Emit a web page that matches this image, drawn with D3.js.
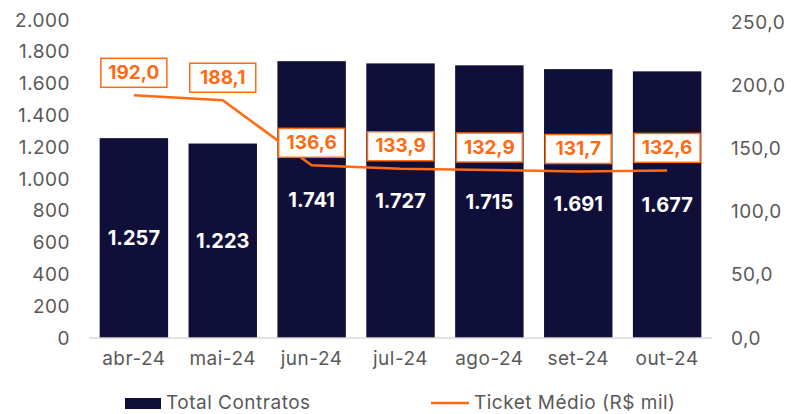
<!DOCTYPE html>
<html>
<head>
<meta charset="utf-8">
<script src="https://cdn.jsdelivr.net/npm/d3@7"></script>
<style>
  body { margin: 0; background: #fff; }
  text { font-family: Inter, "Open Sans", sans-serif; }
  .ax { font-size: 19px; letter-spacing: 0.5px; fill: #595959; }
</style>
</head>
<body>
<script>
var months = ["abr-24", "mai-24", "jun-24", "jul-24", "ago-24", "set-24", "out-24"];
var contratos = [1257, 1223, 1741, 1727, 1715, 1691, 1677];
var ticket = [192.0, 188.1, 136.6, 133.9, 132.9, 131.7, 132.6];
var leftTicks = [0, 200, 400, 600, 800, 1000, 1200, 1400, 1600, 1800, 2000];
var rightTicks = [0, 50, 100, 150, 200, 250];

var width = 791, height = 414;
var navy = "#100f3a", orange = "#ff6a13";

var svg = d3.select("body").append("svg")
  .attr("width", width)
  .attr("height", height);

var x = d3.scaleBand().domain(months).range([89, 712]).paddingInner(0.23).paddingOuter(0.12);
var yL = d3.scaleLinear().domain([0, 2000]).range([338, 20]);
var yR = d3.scaleLinear().domain([0, 250]).range([338, 22]);

var fmtInt = function(d) { return d3.format(",")(d).replace(/,/g, "."); };
var fmtDec = function(d) { return d.toFixed(1).replace(".", ","); };

// left axis
svg.append("g").selectAll("text")
  .data(leftTicks)
  .enter()
  .append("text")
  .attr("class", "ax")
  .attr("x", 70)
  .attr("y", function(d) { return yL(d); })
  .attr("dy", "0.35em")
  .attr("text-anchor", "end")
  .text(fmtInt);

// right axis
svg.append("g").selectAll("text")
  .data(rightTicks)
  .enter()
  .append("text")
  .attr("class", "ax")
  .attr("x", 731)
  .attr("y", function(d) { return yR(d); })
  .attr("dy", "0.35em")
  .text(fmtDec);

// bars
svg.selectAll("rect.bar")
  .data(contratos)
  .enter()
  .append("rect")
  .attr("class", "bar")
  .attr("x", function(d, i) { return x(months[i]); })
  .attr("y", function(d) { return yL(d); })
  .attr("width", x.bandwidth())
  .attr("height", function(d) { return yL(0) - yL(d); })
  .style("fill", navy);

svg.selectAll("text.barlabel")
  .data(contratos)
  .enter()
  .append("text")
  .attr("class", "barlabel")
  .attr("x", function(d, i) { return x(months[i]) + x.bandwidth() / 2; })
  .attr("y", function(d) { return (yL(d) + yL(0)) / 2; })
  .attr("dy", "0.35em")
  .attr("text-anchor", "middle")
  .style("font-size", "20px")
  .style("font-weight", "bold")
  .style("fill", "#fff")
  .text(fmtInt);

// baseline
svg.append("line")
  .attr("x1", 89).attr("x2", 712)
  .attr("y1", yL(0)).attr("y2", yL(0))
  .style("stroke", "#d9d9d9")
  .style("stroke-width", 1.5);

// x labels
svg.selectAll("text.xlabel")
  .data(months)
  .enter()
  .append("text")
  .attr("class", "ax")
  .attr("x", function(d) { return x(d) + x.bandwidth() / 2; })
  .attr("y", 358)
  .attr("dy", "0.35em")
  .attr("text-anchor", "middle")
  .text(function(d) { return d; });

// ticket line
var line = d3.line()
  .x(function(d, i) { return x(months[i]) + x.bandwidth() / 2; })
  .y(function(d) { return yR(d); });

svg.append("path")
  .datum(ticket)
  .attr("d", line)
  .style("fill", "none")
  .style("stroke", orange)
  .style("stroke-width", 2.5);

// ticket labels
var lbl = svg.selectAll("g.tlabel")
  .data(ticket)
  .enter()
  .append("g")
  .attr("class", "tlabel")
  .attr("transform", function(d, i) {
    return "translate(" + (x(months[i]) + x.bandwidth() / 2) + "," + (yR(d) - 23) + ")";
  });

lbl.append("rect")
  .attr("x", -33).attr("y", -14)
  .attr("width", 66).attr("height", 29)
  .style("fill", "#fff")
  .style("stroke", orange)
  .style("stroke-width", 1.5);

lbl.append("text")
  .attr("text-anchor", "middle")
  .attr("dy", "0.35em")
  .style("font-size", "19px")
  .style("font-weight", "bold")
  .style("fill", orange)
  .text(fmtDec);

// legend
svg.append("rect")
  .attr("x", 125).attr("y", 398)
  .attr("width", 36).attr("height", 11)
  .style("fill", navy);
svg.append("text")
  .attr("class", "ax")
  .attr("x", 166).attr("y", 402)
  .attr("dy", "0.35em")
  .text("Total Contratos");

svg.append("line")
  .attr("x1", 431).attr("x2", 469)
  .attr("y1", 403).attr("y2", 403)
  .style("stroke", orange)
  .style("stroke-width", 2.5);
svg.append("text")
  .attr("class", "ax")
  .attr("x", 474).attr("y", 402)
  .attr("dy", "0.35em")
  .text("Ticket Médio (R$ mil)");
</script>
</body>
</html>
